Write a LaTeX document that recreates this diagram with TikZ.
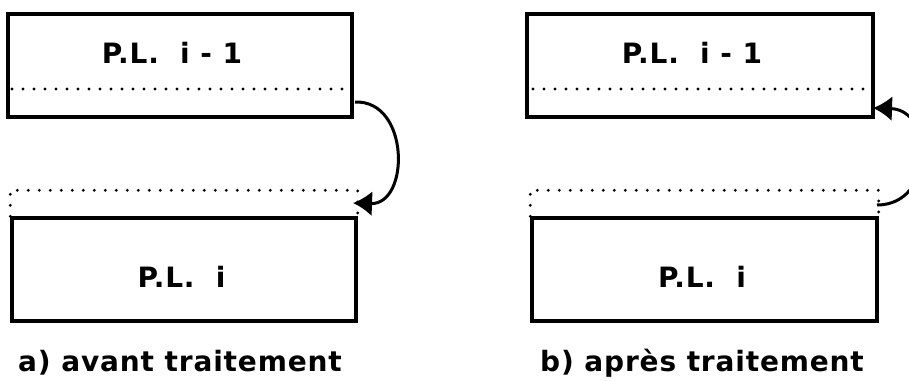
\documentclass[tikz,border=0pt]{standalone}
\usepackage{fontspec}
\setmainfont{DejaVu Sans}[LetterSpace=3]
\usetikzlibrary{arrows.meta}

\begin{document}
\begin{tikzpicture}[x=1pt,y=-1pt]
    \tikzstyle{every node}+=[inner sep=0pt]
    \tikzstyle{box}=[draw,rectangle,line width=3.4pt,minimum width=344pt,minimum height=103pt]
    \tikzstyle{dots}=[line width=3.2pt,line cap=round,dash pattern=on 0pt off 11pt]
    \tikzstyle{link}=[line width=3pt,-{Latex[length=19pt,width=25pt]}]
    \tikzstyle{lbl}=[font=\bfseries\fontsize{28}{34}\selectfont]
    \useasboundingbox (0,0) rectangle (909,380);
    % a) avant traitement
    \node [box] (prevA) at (180,65.5) {};
    \node [lbl] (prevAtxt) at (172,53) {P.L.\ \ i - 1};
    \draw [dots] (12,89) -- (348,89);
    \node [box] (curA) at (184,269.5) {};
    \node [lbl] (curAtxt) at (181.5,277) {P.L.\ \ i};
    \draw [dots] (curA.north west) -- ++(0,-26) -| (curA.north east);
    \coordinate (outA) at (355,102);
    \coordinate (inA) at (353,203);
    \draw [link] (outA) .. controls (410,100) and (410,205) .. (inA);
    \node [lbl] (capA) at (180,363) {a)\ avant traitement};
    % b) apres traitement
    \node [box, minimum width=346pt] (prevB) at (700,65.5) {};
    \node [lbl] (prevBtxt) at (692,53) {P.L.\ \ i - 1};
    \draw [dots] (533,89) -- (868,89);
    \node [box, minimum width=345pt] (curB) at (704.5,269.5) {};
    \node [lbl] (curBtxt) at (702,277) {P.L.\ \ i};
    \draw [dots] (curB.north west) -- ++(0,-26) -| (curB.north east);
    \coordinate (outB) at (877,205);
    \coordinate (inB) at (873,108);
    \draw [link] (outB) .. controls (935,205) and (935,110) .. (inB);
    \node [lbl] (capB) at (702,363) {b) après traitement};
\end{tikzpicture}
\end{document}
